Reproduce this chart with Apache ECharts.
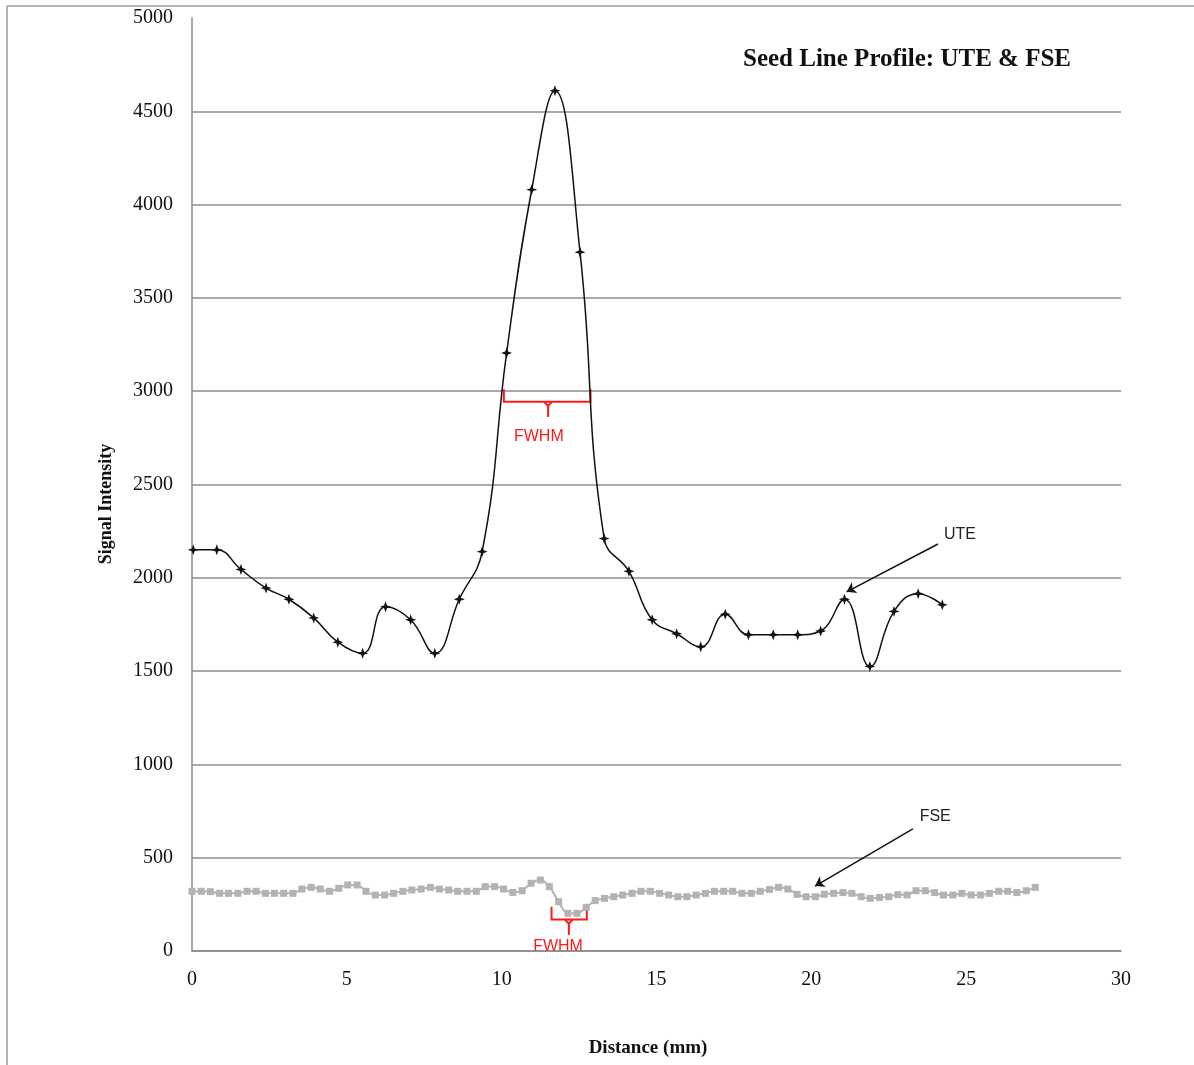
<!DOCTYPE html>
<html>
<head>
<meta charset="utf-8">
<title>Seed Line Profile: UTE & FSE</title>
<script src="https://cdn.jsdelivr.net/npm/echarts@6/dist/echarts.min.js"></script>
<style>
  html, body { margin: 0; padding: 0; background: #fff; }
  #chart { width: 1194px; height: 1065px; }
</style>
</head>
<body>
<div id="chart"></div>
<script>
// UTE profile (mm, signal)
const uteX = [0.04, 0.80, 1.58, 2.39, 3.13, 3.93, 4.71, 5.51, 6.25, 7.06, 7.84, 8.63, 9.37, 10.16, 10.97, 11.72,
  12.53, 13.31, 14.11, 14.86, 15.65, 16.43, 17.22, 17.97, 18.77, 19.56, 20.30, 21.07, 21.89, 22.67, 23.45, 24.23]
const uteY = [2150, 2150, 2045, 1945, 1885, 1785, 1655, 1595, 1845, 1775, 1595, 1885, 2140, 3205, 4080, 4610,
  3745, 2210, 2035, 1775, 1700, 1630, 1805, 1695, 1695, 1695, 1715, 1885, 1525, 1820, 1915, 1855]

// FSE profile (mm, signal)
const fseX = [0, 0.30, 0.59, 0.89, 1.18, 1.48, 1.78, 2.07, 2.37, 2.66,
  2.96, 3.26, 3.55, 3.85, 4.14, 4.44, 4.74, 5.03, 5.33, 5.62,
  5.92, 6.22, 6.51, 6.81, 7.10, 7.40, 7.70, 7.99, 8.29, 8.58,
  8.88, 9.18, 9.47, 9.77, 10.06, 10.36, 10.66, 10.95, 11.25, 11.54,
  11.84, 12.14, 12.43, 12.73, 13.02, 13.32, 13.62, 13.91, 14.21, 14.50,
  14.80, 15.10, 15.39, 15.69, 15.98, 16.28, 16.58, 16.87, 17.17, 17.46,
  17.76, 18.06, 18.35, 18.65, 18.94, 19.24, 19.54, 19.83, 20.13, 20.42,
  20.72, 21.02, 21.31, 21.61, 21.90, 22.20, 22.50, 22.79, 23.09, 23.38,
  23.68, 23.98, 24.27, 24.57, 24.86, 25.16, 25.46, 25.75, 26.05, 26.34,
  26.64, 26.94, 27.23]
const fseY = [320, 320, 318, 309, 309, 309, 320, 320, 309, 309,
  309, 309, 332, 341, 332, 320, 336, 354, 354, 320,
  300, 300, 309, 320, 327, 332, 341, 332, 327, 320,
  320, 320, 345, 345, 332, 314, 323, 363, 380, 345,
  264, 202, 202, 234, 270, 282, 291, 300, 309, 320,
  320, 309, 300, 291, 291, 300, 309, 320, 320, 320,
  309, 309, 320, 330, 341, 332, 304, 291, 291, 304,
  309, 313, 309, 291, 282, 287, 291, 302, 300, 323,
  323, 313, 300, 300, 309, 300, 300, 309, 320, 320,
  313, 323, 341]

// FWHM brackets: [xLeft, xRight, yTop, yBar, xTick, yTickEnd, xText, yText]
const fwhmUte = [10.07, 12.87, 3010, 2943, 11.5, 2862, 11.2, 2755]
const fwhmFse = [11.61, 12.75, 237, 169, 12.17, 86, 11.82, 24]

// series pointers: [labelX, labelY, fromX, fromY, toX, toY]
const uteArrow = [24.8, 2230, 24.09, 2181, 21.14, 1925]
const fseArrow = [24.0, 720, 23.28, 654, 20.12, 348]

const serif = '"Liberation Serif", "Times New Roman", serif'
const sans = '"Liberation Sans", Arial, sans-serif'

const chart = echarts.init(document.getElementById('chart'))

const star = 'path://M5,0 L6.3,3.7 L10,5 L6.3,6.3 L5,10 L3.7,6.3 L0,5 L3.7,3.7 Z'

let option = {
  animation: false,
  backgroundColor: '#fff',
  grid: { left: 192, right: 73, top: 18, bottom: 114, outerBoundsMode: 'none' },
  xAxis: {
    type: 'value',
    min: 0,
    max: 30,
    interval: 5,
    axisLine: { show: true, lineStyle: { color: '#8c8c8c', width: 1.5 } },
    axisTick: { show: false },
    splitLine: { show: false },
    axisLabel: { margin: 19, color: '#111', fontFamily: serif, fontSize: 20 }
  },
  yAxis: {
    type: 'value',
    min: 0,
    max: 5000,
    interval: 500,
    axisLine: { show: true, lineStyle: { color: '#8c8c8c', width: 1.5 } },
    axisTick: { show: false },
    splitLine: { show: true, showMaxLine: false, lineStyle: { color: '#8c8c8c', width: 1.5 } },
    axisLabel: {
      margin: 19, color: '#111', fontFamily: serif, fontSize: 20,
      formatter: function(v) { return String(v) }
    }
  },
  series: [
    {
      name: 'FSE',
      type: 'line',
      smooth: 0.4,
      data: fseX.map((x, i) => [x, fseY[i]]),
      symbol: 'rect',
      symbolSize: 7,
      itemStyle: { color: '#b3b3b3' },
      lineStyle: { color: '#b3b3b3', width: 2 },
      markLine: {
        silent: true,
        symbol: ['none', 'arrow'],
        symbolSize: 9,
        label: { show: false },
        lineStyle: { color: '#111', width: 1.5, type: 'solid' },
        data: [[{ coord: [fseArrow[2], fseArrow[3]] }, { coord: [fseArrow[4], fseArrow[5]] }]]
      }
    },
    {
      name: 'UTE',
      type: 'line',
      smooth: 0.45,
      data: uteX.map((x, i) => [x, uteY[i]]),
      symbol: star,
      symbolSize: 11,
      itemStyle: { color: '#111' },
      lineStyle: { color: '#111', width: 1.5 },
      markLine: {
        silent: true,
        symbol: ['none', 'arrow'],
        symbolSize: 9,
        label: { show: false },
        lineStyle: { color: '#111', width: 1.5, type: 'solid' },
        data: [[{ coord: [uteArrow[2], uteArrow[3]] }, { coord: [uteArrow[4], uteArrow[5]] }]]
      }
    }
  ]
}

chart.setOption(option)

function px(x, y) {
  return chart.convertToPixel({ gridIndex: 0 }, [x, y])
}

function bracket(b) {
  const tl = px(b[0], b[2]), bl = px(b[0], b[3]), br = px(b[1], b[3]), tr = px(b[1], b[2])
  const t1 = px(b[4], b[3]), t2 = px(b[4], b[5]), tp = px(b[6], b[7])
  return [
    {
      type: 'polyline',
      shape: { points: [tl, bl, br, tr] },
      style: { stroke: '#ff1a1a', lineWidth: 2, fill: null }
    },
    {
      type: 'polyline',
      shape: { points: [[t1[0] - 4, t1[1]], [t1[0], t1[1] + 4], [t1[0] + 4, t1[1]]] },
      style: { stroke: '#ff1a1a', lineWidth: 2, fill: null }
    },
    {
      type: 'line',
      shape: { x1: t1[0], y1: t1[1] + 3, x2: t2[0], y2: t2[1] },
      style: { stroke: '#ff1a1a', lineWidth: 2 }
    },
    {
      type: 'text',
      x: tp[0],
      y: tp[1],
      style: { text: 'FWHM', fill: '#ff1a1a', font: '16px ' + sans, align: 'center', verticalAlign: 'middle' }
    }
  ]
}

function tag(text, a) {
  const p = px(a[0], a[1])
  return {
    type: 'text',
    x: p[0],
    y: p[1],
    style: { text: text, fill: '#222', font: '16px ' + sans, align: 'center', verticalAlign: 'middle' }
  }
}

chart.setOption({
  graphic: [
    // outer frame
    { type: 'line', shape: { x1: 7, y1: 6, x2: 7, y2: 1065 }, style: { stroke: '#9a9a9a', lineWidth: 1.5 } },
    { type: 'line', shape: { x1: 7, y1: 6, x2: 1194, y2: 6 }, style: { stroke: '#9a9a9a', lineWidth: 1.5 } },
    {
      type: 'text', x: 907, y: 60,
      style: { text: 'Seed Line Profile: UTE & FSE', fill: '#111', font: 'bold 25px ' + serif, align: 'center', verticalAlign: 'middle' }
    },
    {
      type: 'text', x: 106, y: 504, rotation: Math.PI / 2,
      style: { text: 'Signal Intensity', fill: '#111', font: 'bold 18px ' + serif, align: 'center', verticalAlign: 'middle' }
    },
    {
      type: 'text', x: 648, y: 1048,
      style: { text: 'Distance (mm)', fill: '#111', font: 'bold 19px ' + serif, align: 'center', verticalAlign: 'middle' }
    },
    tag('UTE', uteArrow),
    tag('FSE', fseArrow)
  ].concat(bracket(fwhmUte), bracket(fwhmFse))
})
</script>
</body>
</html>
